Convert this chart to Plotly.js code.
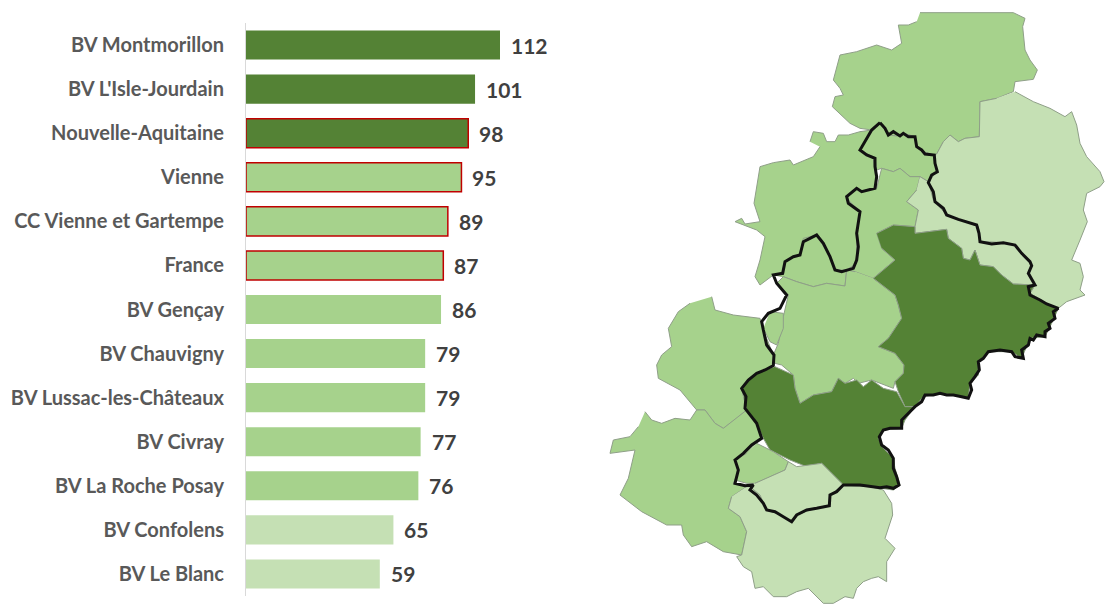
<!DOCTYPE html>
<html><head><meta charset="utf-8">
<script src="https://cdn.plot.ly/plotly-3.0.1.min.js"></script>
<style>html,body{margin:0;padding:0;background:#fff}#c{width:1105px;height:604px}</style>
</head><body><div id="c"></div>
<script>
const categories = ["BV Montmorillon","BV L'Isle-Jourdain","Nouvelle-Aquitaine","Vienne","CC Vienne et Gartempe","France","BV Gençay","BV Chauvigny","BV Lussac-les-Châteaux","BV Civray","BV La Roche Posay","BV Confolens","BV Le Blanc"];
const values = [112,101,98,95,89,87,86,79,79,77,76,65,59];
const DARK="#548235", MED="#A6D28C", LIGHT="#C5E0B4", RED="#C00000";
const barColors = [DARK,DARK,DARK,MED,MED,MED,MED,MED,MED,MED,MED,LIGHT,LIGHT];
const barEdges = [0,0,1,1,1,1,0,0,0,0,0,0,0];

const regionTop=[[960,38],[1240,38],[1275,55],[1268,80],[1275,150],[1290,180],[1312,210],[1300,238],[1245,245],[1240,275],[1190,295],[1140,305],[1138,410],[1095,415],[1075,425],[1050,405],[1030,425],[1010,462],[1000,465],[970,455],[950,440],[945,410],[910,400],[890,408],[865,405],[840,368],[815,390],[780,385],[750,370],[720,340],[697,320],[705,290],[730,285],[720,265],[700,240],[708,210],[720,165],[770,155],[830,135],[875,150],[905,130],[895,75],[925,75],[950,65]];
const regionEast=[[1245,275],[1300,305],[1350,325],[1395,350],[1415,335],[1430,375],[1440,430],[1460,470],[1500,515],[1512,545],[1500,560],[1460,580],[1450,630],[1462,665],[1440,720],[1415,780],[1440,790],[1450,830],[1440,870],[1455,885],[1400,905],[1375,925],[1340,910],[1290,880],[1305,855],[1285,825],[1295,795],[1270,770],[1245,735],[1210,728],[1140,725],[1135,680],[1095,665],[1040,645],[1000,600],[985,545],[1010,515],[1000,465],[1010,462],[1030,425],[1050,405],[1075,425],[1095,415],[1138,410],[1140,305],[1190,295]];
const regionWest=[[630,425],[640,395],[670,400],[680,425],[705,425],[715,405],[745,405],[780,395],[815,390],[780,450],[820,475],[825,510],[830,565],[785,575],[770,565],[740,595],[780,635],[770,700],[770,790],[740,810],[735,858],[680,850],[640,860],[590,845],[550,830],[520,825],[480,855],[465,830],[480,780],[495,710],[470,690],[405,665],[425,655],[435,672],[480,665],[462,610],[480,500],[520,488],[570,480],[580,495],[640,470],[660,440]];
const regionWestInner=[[520,825],[545,820],[555,785],[600,760],[610,715],[650,705],[690,770],[705,810],[740,810],[735,858],[680,850],[640,860],[590,845],[550,830]];
const regionNorthInner=[[840,368],[865,405],[890,408],[910,400],[945,410],[950,440],[970,455],[1000,465],[1010,515],[985,545],[960,530],[930,530],[900,505],[880,515],[845,505],[830,510],[825,475],[780,450],[815,390]];
const regionStrip=[[830,565],[845,505],[880,515],[900,505],[930,530],[960,530],[950,570],[920,605],[955,630],[945,680],[880,675],[830,700],[845,745],[885,780],[820,835],[765,815],[740,810],[770,790],[770,700],[780,635],[740,595],[770,565],[785,575]];
const regionLightStrip=[[960,530],[985,545],[1000,600],[1040,645],[1095,665],[1135,680],[1140,725],[1210,728],[1245,735],[1270,770],[1295,795],[1285,825],[1305,855],[1240,852],[1205,825],[1180,800],[1140,795],[1125,750],[1110,780],[1090,775],[1085,745],[1045,715],[1040,688],[945,700],[945,680],[955,630],[920,605],[950,570]];
const regionDarkEast=[[830,700],[880,675],[945,680],[945,700],[1040,688],[1045,715],[1085,745],[1090,775],[1110,780],[1125,750],[1140,795],[1180,800],[1205,825],[1240,852],[1305,855],[1290,880],[1340,910],[1375,925],[1355,970],[1335,1010],[1290,1015],[1265,1075],[1235,1055],[1165,1055],[1135,1090],[1135,1125],[1110,1150],[1105,1195],[1060,1185],[1020,1180],[970,1190],[945,1220],[915,1220],[895,1175],[885,1145],[910,1120],[912,1095],[885,1060],[835,1040],[865,1015],[905,955],[895,915],[885,885],[820,835],[885,780],[845,745]];
const regionCentre=[[820,835],[885,885],[895,915],[905,955],[865,1015],[835,1040],[885,1060],[912,1095],[910,1120],[885,1145],[880,1165],[815,1140],[775,1150],[760,1135],[735,1150],[715,1135],[695,1175],[640,1185],[600,1210],[585,1165],[580,1125],[545,1095],[525,1090],[520,1065],[535,1030],[550,950],[565,885],[530,850],[550,830],[590,845],[640,860],[680,850],[735,858],[740,810],[765,815]];
const regionNarrow=[[510,935],[550,940],[550,985],[530,1035],[510,1025],[490,985]];
const regionWestMid=[[335,890],[345,930],[400,945],[480,955],[490,990],[520,1065],[520,1100],[470,1120],[425,1165],[440,1230],[410,1255],[370,1285],[345,1270],[315,1230],[290,1230],[270,1205],[240,1170],[175,1135],[170,1095],[185,1065],[215,1040],[205,985],[235,935],[270,910]];
const regionSouthWest=[[135,1235],[155,1260],[185,1270],[225,1255],[270,1260],[290,1230],[315,1230],[345,1270],[370,1285],[410,1255],[440,1230],[460,1260],[490,1305],[440,1360],[405,1380],[415,1415],[400,1450],[440,1460],[395,1490],[385,1525],[420,1550],[440,1595],[425,1665],[370,1655],[320,1625],[275,1640],[250,1605],[245,1575],[200,1575],[125,1535],[60,1485],[85,1435],[95,1395],[105,1350],[30,1360],[40,1320],[90,1310],[115,1280]];
const regionDarkSouth=[[525,1100],[580,1125],[585,1165],[600,1210],[640,1185],[695,1175],[715,1135],[735,1150],[770,1140],[790,1160],[815,1140],[850,1165],[890,1175],[915,1220],[945,1220],[915,1260],[905,1285],[850,1290],[835,1315],[850,1345],[880,1375],[885,1405],[900,1455],[880,1470],[810,1460],[730,1455],[690,1415],[665,1390],[620,1400],[570,1380],[510,1350],[490,1315],[465,1260],[440,1230],[425,1165],[470,1120]];
const regionSmallMed=[[470,1330],[520,1355],[565,1385],[555,1410],[500,1435],[465,1450],[440,1450],[405,1440],[415,1415],[405,1380],[440,1360]];
const regionSmallLight=[[465,1450],[555,1410],[565,1385],[590,1400],[665,1390],[730,1455],[690,1485],[690,1515],[640,1525],[590,1545],[575,1565],[530,1540],[500,1530],[480,1485],[450,1460]];
const regionSouth=[[440,1460],[450,1460],[480,1485],[500,1530],[530,1540],[575,1565],[590,1545],[640,1525],[690,1515],[690,1485],[730,1455],[810,1460],[850,1470],[875,1510],[878,1545],[865,1585],[855,1615],[885,1645],[870,1670],[860,1685],[860,1745],[835,1730],[815,1735],[790,1745],[770,1765],[760,1795],[735,1790],[700,1810],[670,1810],[640,1780],[625,1765],[590,1775],[560,1790],[520,1790],[490,1760],[465,1765],[455,1715],[430,1700],[410,1670],[425,1665],[440,1595],[420,1550],[385,1525],[395,1490]];
const studyBorder=[[840,368],[855,385],[865,405],[880,395],[900,408],[910,400],[925,410],[945,410],[950,440],[965,450],[975,462],[1003,465],[1005,490],[1012,515],[995,525],[985,548],[1000,575],[1005,605],[1030,625],[1040,645],[1075,658],[1095,665],[1130,675],[1137,700],[1140,725],[1175,732],[1210,728],[1245,735],[1265,760],[1290,785],[1295,797],[1285,820],[1305,855],[1285,860],[1290,885],[1320,900],[1340,912],[1375,925],[1360,935],[1365,955],[1345,970],[1350,985],[1335,995],[1335,1010],[1310,1005],[1300,1020],[1290,1015],[1285,1035],[1265,1050],[1270,1075],[1245,1070],[1235,1055],[1200,1050],[1165,1055],[1150,1075],[1135,1085],[1138,1110],[1125,1130],[1110,1150],[1115,1170],[1105,1195],[1085,1190],[1060,1185],[1040,1185],[1020,1180],[1000,1185],[975,1185],[965,1205],[945,1220],[920,1245],[905,1260],[905,1285],[870,1285],[850,1290],[838,1310],[845,1335],[865,1350],[880,1375],[880,1405],[890,1430],[897,1455],[880,1465],[860,1460],[840,1463],[810,1460],[780,1455],[730,1455],[710,1475],[690,1485],[688,1517],[650,1525],[620,1530],[590,1545],[575,1565],[550,1550],[525,1535],[500,1530],[490,1510],[470,1485],[450,1470],[460,1455],[435,1457],[405,1450],[410,1430],[415,1410],[405,1380],[430,1360],[455,1335],[485,1315],[470,1270],[450,1245],[435,1225],[438,1190],[425,1165],[445,1140],[470,1120],[495,1110],[520,1097],[522,1065],[500,1035],[490,990],[485,965],[505,940],[540,925],[560,885],[530,850],[520,825],[548,820],[555,785],[580,770],[600,765],[610,725],[630,715],[650,705],[670,730],[690,770],[705,810],[725,815],[760,805],[770,780],[775,740],[770,700],[780,635],[745,610],[740,590],[770,565],[785,575],[825,565],[830,530],[825,500],[825,475],[800,465],[780,450],[795,425],[815,390],[840,368]];

const mapRegions=[[regionTop,MED],[regionEast,LIGHT],[regionWest,MED],[regionWestInner,MED],[regionNorthInner,MED],[regionStrip,MED],[regionLightStrip,LIGHT],[regionCentre,MED],[regionNarrow,MED],[regionDarkEast,DARK],[regionWestMid,MED],[regionSouthWest,MED],[regionSouth,LIGHT],[regionDarkSouth,DARK],[regionSmallMed,MED],[regionSmallLight,LIGHT]];

const traces=[{type:'bar',orientation:'h',y:categories,x:values,xaxis:'x',yaxis:'y',
  marker:{color:barColors,line:{color:barEdges.map(e=>e?RED:'rgba(0,0,0,0)'),width:barEdges.map(e=>e?1.5:0)}},hoverinfo:'skip'}];
mapRegions.forEach(([pts,col])=>traces.push({type:'scatter',mode:'lines',xaxis:'x2',yaxis:'y2',fill:'toself',fillcolor:col,
  x:pts.map(p=>p[0]),y:pts.map(p=>p[1]),line:{color:'#8f9f88',width:1},hoverinfo:'skip'}));
traces.push({type:'scatter',mode:'lines',xaxis:'x2',yaxis:'y2',x:studyBorder.map(p=>p[0]),y:studyBorder.map(p=>p[1]),line:{color:'#111',width:3},hoverinfo:'skip'});

const layout={width:1105,height:604,margin:{l:0,r:0,t:0,b:0},showlegend:false,paper_bgcolor:'#fff',plot_bgcolor:'rgba(0,0,0,0)',
  bargap:0.34,
  xaxis:{domain:[246/1105,500/1105],range:[0,112],visible:false,fixedrange:true,anchor:'y'},
  yaxis:{domain:[8/604,581/604],range:[12.5,-0.5],type:'category',categoryorder:'array',categoryarray:categories,anchor:'x',
    showline:true,linecolor:'#d9d9d9',linewidth:1,showgrid:false,ticks:'',ticklabelstandoff:17,
    tickfont:{family:'Lato,sans-serif',size:20,color:'#595959',weight:700},fixedrange:true},
  xaxis2:{domain:[0,1],range:[-1800,1515],visible:false,fixedrange:true,anchor:'y2'},
  yaxis2:{domain:[0,1],range:[1812,0],visible:false,fixedrange:true,anchor:'x2'},
  annotations:categories.map((c,i)=>({x:values[i],y:c,xref:'x',yref:'y',text:String(values[i]),showarrow:false,xanchor:'left',xshift:9,
    font:{family:'Lato,sans-serif',size:21,color:'#404040',weight:700}}))
};
Plotly.newPlot('c',traces,layout,{displayModeBar:false,staticPlot:true});
</script></body></html>
